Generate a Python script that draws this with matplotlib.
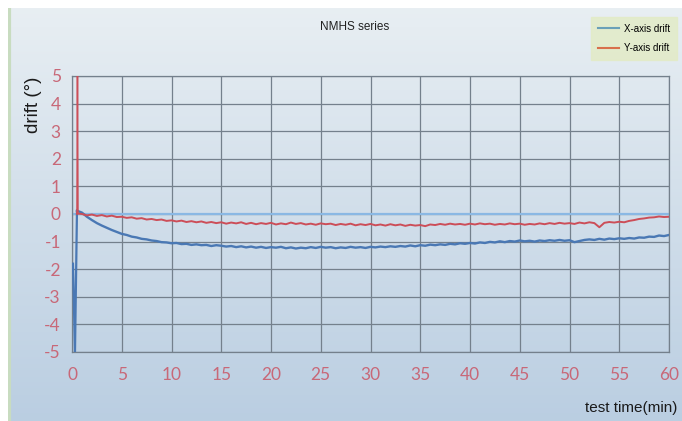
import numpy as np
import matplotlib
matplotlib.use("Agg")
import matplotlib.pyplot as plt
from matplotlib.lines import Line2D

# ---------------- data ----------------
time_min = np.arange(0.5, 60.01, 0.5)

x_drift = [0.12, 0.05, -0.10, -0.22, -0.33, -0.42, -0.50, -0.58, -0.65, -0.72,
           -0.76, -0.82, -0.85, -0.90, -0.92, -0.96, -0.98, -1.02, -1.03, -1.06,
           -1.05, -1.09, -1.08, -1.12, -1.10, -1.13, -1.12, -1.16, -1.13, -1.15,
           -1.18, -1.16, -1.20, -1.17, -1.21, -1.18, -1.22, -1.19, -1.23, -1.20,
           -1.22, -1.19, -1.24, -1.21, -1.25, -1.22, -1.24, -1.20, -1.23, -1.19,
           -1.22, -1.20, -1.24, -1.21, -1.23, -1.19, -1.22, -1.20, -1.23, -1.19,
           -1.21, -1.18, -1.20, -1.17, -1.19, -1.16, -1.18, -1.14, -1.17, -1.13,
           -1.15, -1.11, -1.13, -1.10, -1.12, -1.08, -1.10, -1.06, -1.08, -1.05,
           -1.07, -1.03, -1.05, -1.01, -1.03, -0.99, -1.02, -0.98, -1.00, -0.96,
           -0.99, -0.97, -1.00, -0.96, -0.98, -0.95, -0.97, -0.94, -0.97, -0.95,
           -1.02, -0.98, -0.94, -0.92, -0.94, -0.90, -0.93, -0.89, -0.91, -0.88,
           -0.90, -0.87, -0.89, -0.85, -0.86, -0.82, -0.83, -0.78, -0.80, -0.76]

y_drift = [0.02, 0.00, -0.05, -0.02, -0.07, -0.04, -0.09, -0.06, -0.11, -0.10,
           -0.14, -0.12, -0.17, -0.15, -0.20, -0.18, -0.22, -0.20, -0.25, -0.23,
           -0.27, -0.24, -0.29, -0.26, -0.30, -0.27, -0.32, -0.29, -0.33, -0.30,
           -0.35, -0.31, -0.34, -0.30, -0.36, -0.32, -0.37, -0.33, -0.36, -0.32,
           -0.38, -0.34, -0.37, -0.31, -0.36, -0.33, -0.38, -0.35, -0.39, -0.34,
           -0.37, -0.35, -0.40, -0.36, -0.39, -0.35, -0.41, -0.37, -0.40, -0.36,
           -0.41, -0.38, -0.42, -0.37, -0.41, -0.38, -0.43, -0.39, -0.42, -0.40,
           -0.44, -0.38, -0.40, -0.36, -0.39, -0.35, -0.38, -0.36, -0.39, -0.35,
           -0.38, -0.34, -0.37, -0.35, -0.39, -0.36, -0.38, -0.34, -0.37, -0.35,
           -0.39, -0.36, -0.38, -0.34, -0.37, -0.33, -0.36, -0.32, -0.35, -0.33,
           -0.36, -0.31, -0.34, -0.30, -0.33, -0.48, -0.32, -0.29, -0.31, -0.28,
           -0.30, -0.25, -0.22, -0.18, -0.16, -0.13, -0.12, -0.09, -0.11, -0.10]

# initial spikes
x_spike_t = [0.1, 0.3, 0.5]
x_spike_v = [-1.8, -5.0, 0.12]
y_spike_t = [0.5, 0.55, 0.6]
y_spike_v = [0.0, 5.0, 0.02]

x_ticks = [0, 5, 10, 15, 20, 25, 30, 35, 40, 45, 50, 55, 60]
y_ticks = [5, 4, 3, 2, 1, 0, -1, -2, -3, -4, -5]

title = "NMHS series"
series_names = ["X-axis drift", "Y-axis drift"]

# ---------------- figure ----------------
plt.rcParams['font.family'] = ['Liberation Sans', 'DejaVu Sans']
plt.rcParams['axes.unicode_minus'] = False

W, H = 682, 421
fig = plt.figure(figsize=(W / 100, H / 100), dpi=100)
fig.patch.set_facecolor("white")

# gradient background panel
bg = fig.add_axes([8 / W, 0, 1 - 8 / W, 1 - 8 / H])
grad = np.linspace(0, 1, 256).reshape(-1, 1)
top_c = np.array([0.910, 0.935, 0.952])
bot_c = np.array([0.730, 0.808, 0.885])
img = top_c[None, None, :] * (1 - grad[:, :, None]) + bot_c[None, None, :] * grad[:, :, None]
bg.imshow(img, aspect="auto", extent=[0, 1, 0, 1], origin="upper")
bg.axvline(0.002, color="#c8dcc0", lw=3)
bg.set_axis_off()
bg.set_zorder(0)

ax = fig.add_axes([72 / W, 1 - 352 / H, (669 - 72) / W, (352 - 76) / H])
ax.set_zorder(1)
ax.patch.set_alpha(0)

blue = "#4a78b4"
red = "#cc4e58"

ax.axhline(0, color="#8ab8e4", lw=1.6, zorder=2)
ax.plot(x_spike_t, x_spike_v, color=blue, lw=1.6, zorder=3)
ax.plot(time_min, x_drift, color=blue, lw=1.7, zorder=3)
ax.plot(y_spike_t, y_spike_v, color=red, lw=1.1, zorder=4)
ax.plot(time_min, y_drift, color=red, lw=1.4, zorder=4)

ax.set_xlim(0, 60)
ax.set_ylim(-5, 5)
ax.set_xticks(x_ticks)
ax.set_yticks(y_ticks)
ax.grid(True, color="#74808c", lw=0.9)
ax.set_axisbelow(True)
for s in ax.spines.values():
    s.set_color("#74808c")
    s.set_linewidth(0.9)
ax.tick_params(length=0, labelsize=12.5, labelcolor="#c86878")
for lab in ax.get_xticklabels() + ax.get_yticklabels():
    lab.set_family(['Lato', 'DejaVu Sans'])
ax.tick_params(axis="x", pad=11)
ax.tick_params(axis="y", pad=8)

fig.text(33 / W, 1 - 105 / H, "drift (°)", rotation=90, ha="center", va="center",
         fontsize=13.5, color="#1a1a1a")
fig.text(677 / W, 1 - 408 / H, "test time(min)", ha="right", va="center",
         fontsize=11, color="#1a1a1a")
fig.text(355 / W, 1 - 27 / H, title, ha="center", va="center", fontsize=8.5,
         color="#222222")

# legend box
handles = [Line2D([], [], color="#6aa0b8", lw=1.5),
           Line2D([], [], color="#d8704c", lw=1.5)]
leg = fig.legend(handles, series_names, loc="upper right",
                 bbox_to_anchor=(1.0, 1 - 12 / H), fontsize=7, frameon=True,
                 handlelength=2.2, handletextpad=0.5, labelspacing=1.0,
                 borderpad=0.7, fancybox=False)
leg.get_frame().set_facecolor("#e2ebc4")
leg.get_frame().set_edgecolor("#e2ebc4")

fig.savefig("out.png", dpi=100)
